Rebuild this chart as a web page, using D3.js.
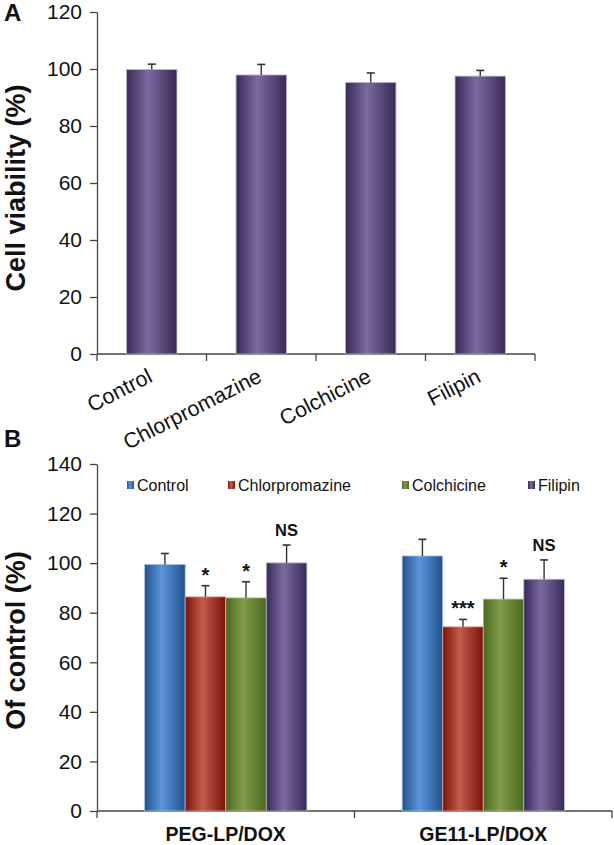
<!DOCTYPE html>
<html><head><meta charset="utf-8">
<script src="https://cdnjs.cloudflare.com/ajax/libs/d3/7.8.5/d3.min.js"></script>
<style>body{margin:0;background:#fff}svg{display:block}</style>
</head><body>
<svg id="chart" width="614" height="845"></svg>
<script>
// ---------- DATA ----------
const categoriesA = ["Control", "Chlorpromazine", "Colchicine", "Filipin"];
const viability = [99.8, 97.9, 95.3, 97.5];
const viabilityErr = [1.9, 3.7, 3.3, 2.0];
const ticksA = [0, 20, 40, 60, 80, 100, 120];

const groupsB = ["PEG-LP/DOX", "GE11-LP/DOX"];
const seriesB = ["Control", "Chlorpromazine", "Colchicine", "Filipin"];
const controlB = [99.5, 102.9];
const chlorB = [86.4, 74.3];
const colchB = [86.0, 85.5];
const filipinB = [100.1, 93.5];
const controlErrB = [4.4, 6.7];
const chlorErrB = [4.5, 3.0];
const colchErrB = [6.5, 8.4];
const filipinErrB = [7.2, 7.8];
const chlorSig = ["*", "***"];
const colchSig = ["*", "*"];
const filipinSig = ["NS", "NS"];
const ticksB = [0, 20, 40, 60, 80, 100, 120, 140];

const valuesB = [controlB, chlorB, colchB, filipinB];
const errsB = [controlErrB, chlorErrB, colchErrB, filipinErrB];
const sigsB = [null, chlorSig, colchSig, filipinSig];

// ---------- STYLE ----------
const font = "Liberation Sans, Arial, Helvetica, sans-serif";
const palettes = {
  Control: {edge: "#22528c", mid: "#5b95dc", stroke: "#a9c3e6"},
  Chlorpromazine: {edge: "#7a130b", mid: "#c25d4b", stroke: "#dca79c"},
  Colchicine: {edge: "#4b6820", mid: "#7f9d4a", stroke: "#b8c99a"},
  Filipin: {edge: "#392a57", mid: "#7c6a9f", stroke: "#bcb1d4"}
};
const svg = d3.select("#chart");
const defs = svg.append("defs");
Object.entries(palettes).forEach(([k, p]) => {
  const g = defs.append("linearGradient").attr("id", "g-" + k)
    .attr("x1", "0%").attr("x2", "100%").attr("y1", "0%").attr("y2", "0%");
  g.append("stop").attr("offset", "0%").attr("stop-color", p.edge);
  g.append("stop").attr("offset", "42%").attr("stop-color", p.mid);
  g.append("stop").attr("offset", "100%").attr("stop-color", p.edge);
});
const axisColor = "#444";

function styleAxis(g) {
  g.select(".domain").attr("stroke", axisColor).attr("stroke-width", 1.3);
  g.selectAll(".tick line").attr("stroke", axisColor).attr("stroke-width", 1.3);
  g.selectAll(".tick text").attr("fill", "#111").attr("font-family", font);
}

function errorBar(g, cx, yTop, yVal, half) {
  g.append("line").attr("x1", cx).attr("x2", cx).attr("y1", yVal).attr("y2", yTop)
    .attr("stroke", "#333").attr("stroke-width", 1.4);
  g.append("line").attr("x1", cx - half).attr("x2", cx + half).attr("y1", yTop).attr("y2", yTop)
    .attr("stroke", "#333").attr("stroke-width", 1.6);
}

// ---------- PANEL A ----------
(function () {
  const left = 97, right = 535, top = 12, bottom = 354;
  const y = d3.scaleLinear().domain([0, 120]).range([bottom, top]);
  const x = d3.scaleBand().domain(categoriesA).range([left, right])
    .paddingInner(0.54).paddingOuter(0.27);
  const step = x.step();
  const g = svg.append("g");

  const ya = g.append("g").attr("transform", `translate(${left},0)`)
    .call(d3.axisLeft(y).tickValues(ticksA).tickSize(7).tickPadding(8).tickSizeOuter(0));
  styleAxis(ya);
  ya.selectAll(".tick text").attr("font-size", 21);

  g.append("line").attr("x1", left).attr("x2", right).attr("y1", bottom).attr("y2", bottom)
    .attr("stroke", axisColor).attr("stroke-width", 1.3);
  d3.range(categoriesA.length + 1).forEach(i => {
    const tx = left + i * step;
    g.append("line").attr("x1", tx).attr("x2", tx).attr("y1", bottom).attr("y2", bottom + 7)
      .attr("stroke", axisColor).attr("stroke-width", 1.3);
  });

  categoriesA.forEach((c, i) => {
    const bx = x(c), bw = x.bandwidth();
    g.append("rect").attr("x", bx).attr("y", y(viability[i])).attr("width", bw)
      .attr("height", bottom - y(viability[i]))
      .attr("fill", "url(#g-Filipin)").attr("stroke", palettes.Filipin.stroke).attr("stroke-width", 0.8);
    errorBar(g, bx + bw / 2, y(viability[i] + viabilityErr[i]), y(viability[i]), 4);
    const cx = bx + bw / 2 + 2;
    g.append("text").attr("transform", `translate(${cx},${bottom + 27}) rotate(-27)`)
      .attr("text-anchor", "end").attr("font-family", font).attr("font-size", 21.5)
      .attr("fill", "#111").text(c);
  });

  g.append("text").attr("transform", `translate(25,${(top + bottom) / 2 + 5}) rotate(-90)`)
    .attr("text-anchor", "middle").attr("font-family", font).attr("font-weight", "bold")
    .attr("font-size", 27).attr("fill", "#111").text("Cell viability (%)");
  g.append("text").attr("x", 4).attr("y", 21).attr("font-family", font)
    .attr("font-weight", "bold").attr("font-size", 24).attr("fill", "#111").text("A");
})();

// ---------- PANEL B ----------
(function () {
  const left = 97, right = 612, top = 464, bottom = 811;
  const y = d3.scaleLinear().domain([0, 140]).range([bottom, top]);
  const x0 = d3.scaleBand().domain(groupsB).range([left, right]).padding(0);
  const gw = x0.bandwidth();
  const x1 = d3.scaleBand().domain(seriesB).range([gw * 0.185, gw * 0.815]).padding(0);
  const g = svg.append("g");

  const ya = g.append("g").attr("transform", `translate(${left},0)`)
    .call(d3.axisLeft(y).tickValues(ticksB).tickSize(7).tickPadding(8).tickSizeOuter(0));
  styleAxis(ya);
  ya.selectAll(".tick text").attr("font-size", 21);

  g.append("line").attr("x1", left).attr("x2", right).attr("y1", bottom).attr("y2", bottom)
    .attr("stroke", axisColor).attr("stroke-width", 1.3);
  d3.range(groupsB.length + 1).forEach(i => {
    const tx = left + i * x0.step();
    g.append("line").attr("x1", tx).attr("x2", tx).attr("y1", bottom).attr("y2", bottom + 7)
      .attr("stroke", axisColor).attr("stroke-width", 1.3);
  });

  groupsB.forEach((grp, gi) => {
    seriesB.forEach((s, si) => {
      const v = valuesB[si][gi], e = errsB[si][gi];
      const bx = x0(grp) + x1(s), bw = x1.bandwidth();
      g.append("rect").attr("x", bx).attr("y", y(v)).attr("width", bw)
        .attr("height", bottom - y(v)).attr("fill", `url(#g-${s})`)
        .attr("stroke", palettes[s].stroke).attr("stroke-width", 0.8);
      errorBar(g, bx + bw / 2, y(v + e), y(v), 4);
      if (sigsB[si]) {
        const lab = sigsB[si][gi];
        g.append("text").attr("x", bx + bw / 2).attr("y", y(v + e) - (lab === "NS" ? 9 : 4))
          .attr("text-anchor", "middle").attr("font-family", font).attr("font-weight", "bold")
          .attr("font-size", lab === "NS" ? 16.5 : 20).attr("fill", "#111").text(lab);
      }
    });
    g.append("text").attr("x", x0(grp) + gw / 2).attr("y", bottom + 30)
      .attr("text-anchor", "middle").attr("font-family", font).attr("font-weight", "bold")
      .attr("font-size", 19.5).attr("fill", "#111").text(grp);
  });

  // legend
  const legX = [127, 228, 402, 528];
  seriesB.forEach((s, i) => {
    g.append("rect").attr("x", legX[i]).attr("y", y(131.5) - 4).attr("width", 7).attr("height", 8)
      .attr("fill", `url(#g-${s})`);
    g.append("text").attr("x", legX[i] + 10).attr("y", y(131.5) + 5.5)
      .attr("font-family", font).attr("font-size", 16).attr("fill", "#111").text(s);
  });

  g.append("text").attr("transform", `translate(25,${(top + bottom) / 2 + 3}) rotate(-90)`)
    .attr("text-anchor", "middle").attr("font-family", font).attr("font-weight", "bold")
    .attr("font-size", 27).attr("fill", "#111").text("Of control (%)");
  g.append("text").attr("x", 4).attr("y", 447).attr("font-family", font)
    .attr("font-weight", "bold").attr("font-size", 24).attr("fill", "#111").text("B");
})();
</script>
</body></html>
